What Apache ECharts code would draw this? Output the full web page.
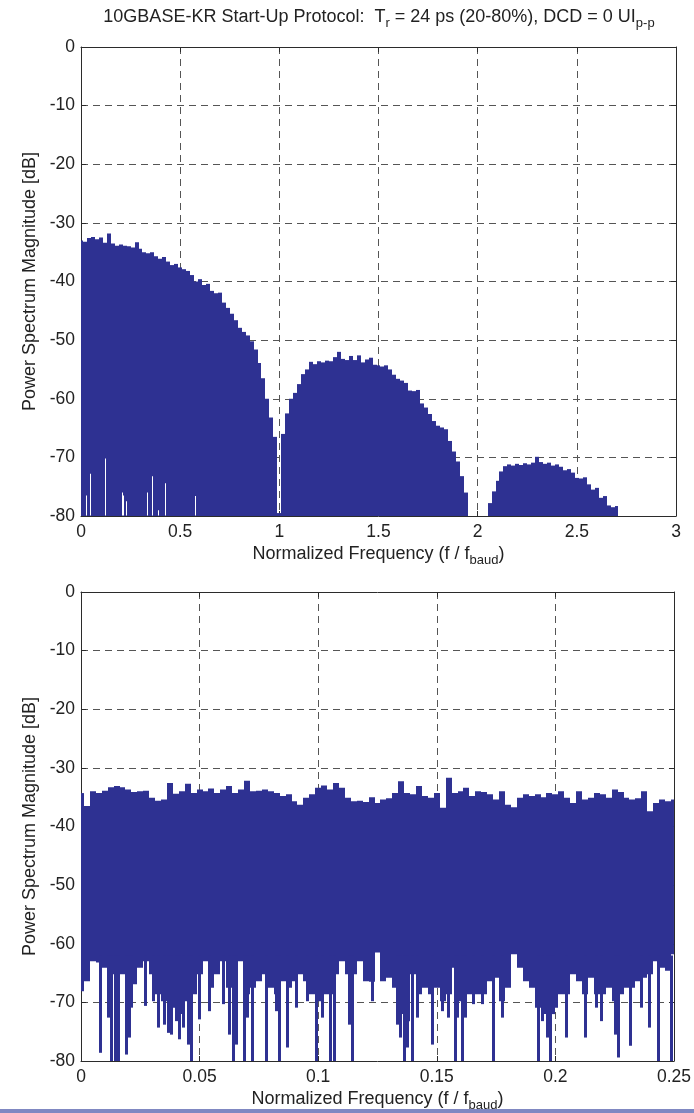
<!DOCTYPE html>
<html>
<head>
<meta charset="utf-8">
<script src="https://cdn.jsdelivr.net/npm/echarts/dist/echarts.min.js"></script>
<style>
html,body{margin:0;padding:0;background:#fff;}
#chart{width:694px;height:1113px;}
</style>
</head>
<body>
<div id="chart"></div>
<script>
// ---------- DATA ----------
// Top panel: spectrum upper envelope sampled every 0.02 (f / f_baud), 0 .. 3 ; null = no signal drawn
const topStep = 0.02;
const topHigh = [
 -33.0,-33.2,-32.6,-32.4,-32.8,-32.5,-33.4,-31.8,-33.5,-33.9,
 -33.7,-33.9,-34.0,-34.2,-33.3,-34.4,-35.0,-35.2,-35.0,-35.7,
 -36.1,-35.8,-36.6,-37.2,-37.0,-37.6,-37.9,-38.2,-38.9,-40.0,
 -39.6,-40.6,-40.4,-41.6,-42.0,-41.9,-43.6,-44.5,-45.5,-46.6,
 -47.9,-48.6,-49.2,-50.2,-51.6,-53.9,-56.5,-60.0,-63.2,-66.5,
 -79.5,-66.0,-62.5,-60.0,-59.0,-57.5,-55.8,-55.0,-53.7,-54.1,
 -53.6,-53.8,-53.5,-53.6,-52.9,-52.0,-53.2,-53.4,-52.7,-53.4,
 -52.6,-53.8,-53.3,-53.0,-54.2,-54.3,-54.5,-54.3,-55.0,-55.9,
 -56.6,-56.9,-57.3,-58.6,-58.7,-58.5,-60.8,-61.5,-62.6,-63.8,
 -64.6,-64.9,-65.2,-67.2,-69.0,-70.7,-73.2,-76.0,null,null,
 null,null,null,-77.8,-75.8,-74.0,-72.4,-71.5,-71.2,-71.4,
 -71.1,-71.3,-71.0,-71.2,-70.9,-69.9,-70.8,-71.1,-70.9,-71.4,
 -71.2,-71.6,-72.2,-72.0,-72.6,-73.5,-73.6,-73.4,-74.6,-75.5,
 -75.2,-76.9,-76.6,-78.2,-78.5,-78.3,null,null,null,null,
 null,null,null,null,null,null,null,null,null,null,null
];
// Top panel: places near the bottom where the trace minima stay above -80 dB [f, min dB]
const topGaps = [
 [0.025,-76.5],[0.045,-72.8],[0.123,-70.2],[0.205,-76.0],[0.212,-76.5],
 [0.228,-77.5],[0.335,-76.0],[0.356,-73.2],[0.390,-79.0],[0.426,-74.4],[0.575,-76.6]
];

// Bottom panel: sampled every 0.0025 (f / f_baud), 0 .. 0.25
const botStep = 0.0025;
const botHigh = [
 -34.3,-36.5,-34.0,-34.3,-33.9,-33.3,-33.1,-33.3,-33.7,-34.1,
 -34.0,-33.9,-35.1,-35.6,-35.4,-32.6,-34.4,-34.0,-32.7,-34.3,
 -33.7,-34.0,-33.5,-34.3,-33.7,-33.1,-34.3,-33.7,-32.2,-34.0,
 -33.9,-33.7,-34.0,-34.3,-34.8,-34.5,-35.7,-36.3,-35.1,-34.5,
 -33.4,-33.0,-33.7,-32.6,-33.4,-35.1,-35.7,-35.6,-35.8,-35.0,
 -36.0,-35.4,-35.2,-34.3,-32.3,-34.3,-34.5,-33.1,-34.8,-35.1,
 -34.3,-36.8,-31.7,-34.3,-34.0,-33.4,-34.8,-34.0,-34.1,-34.5,
 -35.4,-34.0,-36.3,-36.7,-35.1,-34.5,-34.8,-34.5,-35.0,-34.3,
 -34.5,-34.0,-35.1,-36.0,-34.0,-35.4,-35.1,-34.3,-34.5,-35.1,
 -33.7,-34.1,-35.1,-35.4,-35.2,-34.0,-37.4,-36.0,-35.4,-35.7,
 -35.4
];
const botLow = [
 -68.1,-66.4,-63.0,-63.2,-64.1,-65.2,-68.6,-65.2,-66.4,-66.9,
 -64.1,-63.0,-65.2,-68.6,-69.8,-72.0,-70.9,-72.0,-69.8,-68.6,
 -65.2,-63.0,-67.5,-65.2,-63.0,-67.5,-69.8,-63.0,-68.6,-67.5,
 -66.4,-65.2,-67.5,-68.6,-66.4,-67.5,-66.4,-65.2,-66.4,-68.6,
 -69.8,-68.6,-68.6,-65.2,-63.0,-65.2,-65.2,-63.0,-66.4,-66.5,
 -61.5,-66.4,-65.8,-67.5,-72.0,-73.2,-65.2,-68.6,-67.5,-68.6,
 -67.5,-69.8,-68.6,-64.1,-69.8,-68.6,-68.6,-68.6,-68.6,-66.4,
 -65.8,-69.8,-67.5,-61.8,-64.1,-66.4,-67.5,-70.9,-72.0,-72.0,
 -70.9,-68.6,-68.6,-65.2,-66.4,-68.6,-65.8,-68.6,-68.6,-67.5,
 -69.8,-68.6,-67.5,-67.5,-66.4,-65.8,-65.2,-63.0,-64.1,-64.6,
 -61.8
];
// Bottom panel: narrow deep dips of the trace [f, dB]
const botDips = [
 [0.0080,-78.6],[0.0115,-72.6],[0.0129,-80],[0.0143,-80],[0.0157,-80],[0.0192,-78.9],
 [0.0203,-76.0],[0.0213,-70.9],[0.0269,-70.6],[0.0304,-69.8],[0.0325,-74.3],[0.0353,-73.8],
 [0.0367,-75.2],[0.0381,-75.5],[0.0402,-73.2],[0.0416,-76.3],[0.0430,-74.3],[0.0451,-77.2],
 [0.0465,-80],[0.0500,-72.9],[0.0542,-71.5],[0.0598,-70.3],[0.0626,-75.5],[0.0640,-80],
 [0.0654,-77.2],[0.0689,-80],[0.0703,-72.6],[0.0724,-80],[0.0780,-80],[0.0822,-71.5],
 [0.0836,-80],[0.0871,-77.7],[0.0906,-70.9],[0.0955,-69.8],[0.0990,-80],[0.1018,-72.6],
 [0.1050,-80],[0.1067,-80],[0.1130,-73.8],[0.1144,-80],[0.1228,-69.8],[0.1333,-73.8],
 [0.1347,-76.0],[0.1361,-80],[0.1375,-77.7],[0.1396,-80],[0.1417,-72.6],[0.1480,-77.2],
 [0.1522,-71.5],[0.1550,-72.6],[0.1576,-80],[0.1586,-72.6],[0.1607,-80],[0.1621,-72.6],
 [0.1656,-70.3],[0.1691,-70.3],[0.1740,-80],[0.1775,-72.6],[0.1929,-80],[0.1943,-73.2],
 [0.1964,-76.0],[0.1978,-80],[0.1992,-72.0],[0.2048,-76.0],[0.2125,-76.0],[0.2174,-70.9],
 [0.2195,-73.2],[0.2251,-75.5],[0.2265,-79.4],[0.2314,-77.4],[0.2363,-70.9],[0.2398,-74.3],
 [0.2433,-80],[0.2489,-80]
];
const yTicks = {min:-80, max:0, interval:10};
const topX = {min:0, max:3, interval:0.5};
const botX = {min:0, max:0.25, interval:0.05};

// ---------- CHART ----------
const FONT = '"Liberation Sans", Arial, Helvetica, sans-serif';
const FILL = '#2e3192';
const AX = '#2b2b2b';
const TXT = '#222';
const chart = echarts.init(document.getElementById('chart'), null, {renderer:'canvas'});

const topData = topHigh.map((v,i)=>[+(i*topStep).toFixed(4), v]).filter(d=>d[1]!==null);
const botData = botHigh.map((v,i)=>[+(i*botStep).toFixed(5), v, botLow[i]]);

function clipped(shape, params){
  return echarts.graphic.clipRectByRect(shape, {
    x: params.coordSys.x, y: params.coordSys.y,
    width: params.coordSys.width, height: params.coordSys.height
  });
}
// pixel-aligned rect so neighbouring samples join without anti-aliasing seams
function rectItem(params, api, x0, x1, yTop, yBot, fill){
  const p1 = api.coord([x0, yTop]);
  const p2 = api.coord([x1, yBot]);
  const xa = Math.round(p1[0]), xb = Math.round(p2[0]);
  const shape = clipped({x:xa, y:p1[1], width:xb-xa, height:p2[1]-p1[1]}, params);
  return shape && {type:'rect', shape:shape, style:{fill:fill}};
}

const nameRich = {
  n:{fontSize:18, fontFamily:FONT, color:TXT, fontWeight:'normal'},
  s:{fontSize:13, fontFamily:FONT, color:TXT, fontWeight:'normal', padding:[12,0,0,0]}
};
const xName = '{n|Normalized Frequency (f / f}{s|baud}{n|)}';

function xAxes(g, rng){
  return [{
    gridIndex:g, type:'value', min:rng.min, max:rng.max, interval:rng.interval, position:'bottom',
    axisLine:{show:true, onZero:false, lineStyle:{color:AX, width:1}},
    axisTick:{show:true, inside:true, length:5, lineStyle:{color:AX}},
    axisLabel:{color:TXT, fontSize:17.5, fontFamily:FONT, margin:7},
    splitLine:{show:true, lineStyle:{type:[7,5], color:'#555', width:1}},
    name:xName, nameLocation:'middle', nameGap:26, nameTextStyle:{rich:nameRich}
  },{
    gridIndex:g, type:'value', min:rng.min, max:rng.max, interval:rng.interval, position:'top',
    axisLine:{show:true, onZero:false, lineStyle:{color:AX, width:1}},
    axisTick:{show:true, inside:true, length:5, lineStyle:{color:AX}},
    axisLabel:{show:false}, splitLine:{show:false}
  }];
}
function yAxes(g){
  return [{
    gridIndex:g, type:'value', min:yTicks.min, max:yTicks.max, interval:yTicks.interval, position:'left',
    axisLine:{show:true, onZero:false, lineStyle:{color:AX, width:1}},
    axisTick:{show:true, inside:true, length:5, lineStyle:{color:AX}},
    axisLabel:{color:TXT, fontSize:17.5, fontFamily:FONT, margin:6},
    splitLine:{show:true, lineStyle:{type:[7,5], color:'#555', width:1}},
    name:'Power Spectrum Magnitude [dB]', nameLocation:'middle', nameGap:37,
    nameTextStyle:{fontSize:18, fontFamily:FONT, color:TXT}
  },{
    gridIndex:g, type:'value', min:yTicks.min, max:yTicks.max, interval:yTicks.interval, position:'right',
    axisLine:{show:true, onZero:false, lineStyle:{color:AX, width:1}},
    axisTick:{show:true, inside:true, length:5, lineStyle:{color:AX}},
    axisLabel:{show:false}, splitLine:{show:false}
  }];
}

const option = {
  animation:false,
  backgroundColor:'#fff',
  title:{
    text:'{a|10GBASE-KR Start-Up Protocol:  T}{s|r}{a| = 24 ps (20-80%), DCD = 0 UI}{s|p-p}',
    left:374, top:0, textAlign:'center',
    textStyle:{fontWeight:'normal', rich:{
      a:{fontSize:18, fontFamily:FONT, color:TXT, fontWeight:'normal'},
      s:{fontSize:13, fontFamily:FONT, color:TXT, fontWeight:'normal', padding:[12,0,0,0]}
    }}
  },
  grid:[
    {left:81, top:47, width:595, height:469},
    {left:81, top:592, width:595, height:470}
  ],
  xAxis:[].concat(xAxes(0, topX), xAxes(1, botX)),
  yAxis:[].concat(yAxes(0), yAxes(1)),
  graphic:[{type:'rect', left:0, top:1109, shape:{width:694, height:4}, style:{fill:'#8088c2'}, z:10}],
  series:[
    { type:'custom', xAxisIndex:0, yAxisIndex:0, data:topData, z:2,
      renderItem:(params, api)=>{
        const f = api.value(0), hi = api.value(1);
        return rectItem(params, api, f - topStep/2, f + topStep/2, hi, yTicks.min, FILL);
      }},
    { type:'custom', xAxisIndex:0, yAxisIndex:0, data:topGaps, z:3,
      renderItem:(params, api)=>{
        const f = api.value(0), lo = api.value(1);
        const p = api.coord([f, lo]); const b = api.coord([f, yTicks.min]);
        const shape = clipped({x:Math.round(p[0]), y:p[1], width:1, height:b[1]-p[1]-0.6}, params);
        return shape && {type:'rect', shape:shape, style:{fill:'#ffffff'}};
      }},
    { type:'custom', xAxisIndex:2, yAxisIndex:2, data:botData, z:2,
      renderItem:(params, api)=>{
        const f = api.value(0), hi = api.value(1), lo = api.value(2);
        return rectItem(params, api, f - botStep/2, f + botStep/2, hi, lo, FILL);
      }},
    { type:'custom', xAxisIndex:2, yAxisIndex:2, data:botDips, z:2,
      renderItem:(params, api)=>{
        const f = api.value(0), lo = api.value(1);
        const p = api.coord([f, -62]); const b = api.coord([f, lo]);
        const xa = Math.round(p[0] - 1.3);
        const shape = clipped({x:xa, y:p[1], width:3, height:b[1]-p[1]}, params);
        return shape && {type:'rect', shape:shape, style:{fill:FILL}};
      }}
  ]
};
chart.setOption(option);
</script>
</body>
</html>
